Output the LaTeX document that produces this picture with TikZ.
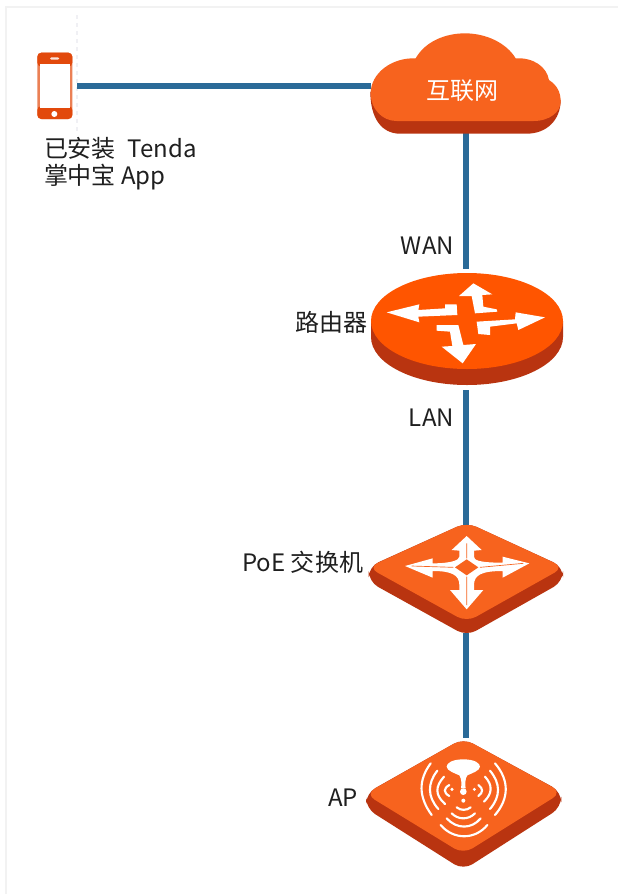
\documentclass[tikz,border=0pt]{standalone}
\usepackage{fontspec}
\setmainfont{Noto Sans CJK SC}
\definecolor{linkc}{HTML}{2A6A98}
\definecolor{orA}{HTML}{F7631E}
\definecolor{orB}{HTML}{FF5500}
\definecolor{sideA}{HTML}{B93410}
\definecolor{phoneC}{HTML}{E2490C}
\tikzset{
  iconbox/.style={draw=none,inner sep=0pt,outer sep=0pt},
  lbl/.style={inner sep=0pt,outer sep=0pt,text=black!88,font=\fontsize{18}{20}\selectfont},
  link/.style={draw=linkc,line width=3.8pt},
  zoomA/.style={x=0.25pt,y=-0.25pt},
  wave/.style={draw=white,line width=1.6pt,line cap=round,fill=none},
}
\begin{document}
\begin{tikzpicture}[x=0.75pt,y=-0.75pt]
\useasboundingbox (0,0) rectangle (618,894);
\fill[white] (0,0) rectangle (618,894);
\draw[black!5,line width=1.5pt] (618,6.5) -- (5.5,6.5) -- (5.5,894);
\draw[blue!30!black!6,line width=0.8pt,dashed] (77,15) -- (77,135);

% invisible anchor boxes
\node[iconbox,minimum width=30pt,minimum height=49.5pt] (phone) at (57,86) {};
\node[iconbox,minimum width=142.5pt,minimum height=70.5pt] (cloud) at (466,86) {};
\node[iconbox,minimum width=142.5pt,minimum height=90.75pt] (router) at (466,329.5) {};
\node[iconbox,minimum width=142.5pt,minimum height=81pt] (switch) at (466,579) {};
\node[iconbox,minimum width=142.5pt,minimum height=96pt] (ap) at (466,802) {};

% connectors
\draw[link] (phone.east) -- (cloud.west);
\draw[link] (cloud.south) -- (router.north);
\draw[link] (router.south) -- (switch.north);
\draw[link] (switch.south) -- (ap.north);

% phone
\begin{scope}[zoomA]
\fill[phoneC!70!white,rounded corners=3pt] (112,158) rectangle (217,357);
\fill[white] (119,192) rectangle (210,325);
\fill[phoneC,rounded corners=3pt] (112,200) -- (112,158) -- (217,158) -- (217,200) -- cycle;
\fill[white] (119,192) rectangle (210,205);
\fill[phoneC,rounded corners=3pt] (112,318) -- (112,357) -- (217,357) -- (217,318) -- cycle;
\fill[white] (119,312) rectangle (210,325);
\fill[white!85!phoneC,rounded corners=1pt] (150,172) rectangle (178,179);
\fill[white] (163,342) circle[radius=9];
\end{scope}

% cloud
\begin{scope}[shift={(350,20)},zoomA]
\fill[sideA] (61,215) -- (632,240) .. controls (632,300) and (590,341) .. (530,341) -- (150,341) .. controls (95,341) and (61,295) .. (61,215) -- cycle;
\fill[orA] (62,220) .. controls (62,160) and (125,112) .. (197,115)
  .. controls (225,65) and (285,40) .. (345,40)
  .. controls (410,40) and (470,70) .. (497,115)
  .. controls (550,112) and (590,140) .. (597,180)
  .. controls (620,195) and (632,215) .. (632,245)
  .. controls (632,275) and (600,303) .. (550,303)
  -- (140,303) .. controls (95,303) and (62,265) .. (62,220) -- cycle;
\end{scope}
\node[inner sep=0pt,text=white,font=\fontsize{18}{20}\selectfont] (cloudtext) at (462,90.5) {互联网};

% router
\fill[sideA] (371,321) -- (371,337) arc[start angle=180,end angle=0,x radius=96,y radius=48] -- (563,321) -- cycle;
\fill[orB] (467,321) ellipse[x radius=96,y radius=48];
\begin{scope}[shift={(350,260)},zoomA]
\fill[white] (110,157) -- (208,133) -- (205,150) -- (285,145) -- (285,133) -- (320,133) -- (322,165) -- (205,170) -- (208,187) -- cycle;
\fill[white] (370,70) -- (427,103) -- (397,105) -- (400,140) -- (440,148) -- (442,155) -- (375,160) -- (365,108) -- (327,108) -- cycle;
\fill[white] (585,172) -- (505,210) -- (500,190) -- (420,200) -- (420,225) -- (385,222) -- (380,185) -- (495,178) -- (497,157) -- cycle;
\fill[white] (338,310) -- (275,260) -- (307,258) -- (300,215) -- (260,212) -- (260,195) -- (325,195) -- (340,255) -- (378,252) -- cycle;
\end{scope}

% switch
\begin{scope}[shift={(350,510)},zoomA]
\fill[sideA,rounded corners=8pt] (56,215) -- (56,170) -- (350,37) -- (639,170) -- (639,215) -- (350,378) -- cycle;
\fill[orA,rounded corners=8pt] (350,37) -- (642,172) -- (350,336) -- (54,172) -- cycle;
% arrows
\fill[white] (350,78) -- (395,120) -- (372,122) -- (372,140) .. controls (372,150) and (385,158) .. (458,158) -- (458,140) -- (538,160) -- (458,203) -- (458,183)
  .. controls (395,183) and (372,195) .. (372,225) -- (372,240) -- (400,240) -- (350,298) -- (300,240) -- (328,240) -- (328,225)
  .. controls (328,195) and (305,183) .. (248,183) -- (248,203) -- (165,168) -- (248,145) -- (248,160)
  .. controls (305,160) and (328,150) .. (328,140) -- (328,122) -- (305,120) -- cycle;
\fill[orA] (350,148) -- (385,172) -- (350,196) -- (315,172) -- cycle;
\draw[orA,line width=0.5pt] (350,100) -- (350,145) (350,200) -- (350,285) (185,168) -- (310,172) (390,172) -- (520,160);
\end{scope}

% AP
\begin{scope}[shift={(350,730)},zoomA]
\fill[sideA,rounded corners=8pt] (48,235) -- (48,190) -- (340,25) -- (634,185) -- (634,232) -- (340,420) -- cycle;
\fill[orA,rounded corners=8pt] (340,25) -- (636,187) -- (340,372) -- (46,192) -- cycle;
\fill[white] (340,88) .. controls (375,88) and (390,100) .. (390,110) .. controls (390,122) and (365,130) .. (352,136) .. controls (345,145) and (345,165) .. (347,175) -- (333,175) .. controls (335,165) and (335,145) .. (328,136) .. controls (315,130) and (290,122) .. (290,110) .. controls (290,100) and (305,88) .. (340,88) -- cycle;
\fill[white] (340,185) circle[radius=10];
\fill[white] (306,178) circle[radius=5];
\fill[white] (373,178) circle[radius=5];
\fill[white] (340,212) circle[radius=6];
\draw[wave] (242,100) .. controls (205,150) and (205,200) .. (245,255);
\draw[wave] (262,122) .. controls (232,160) and (232,200) .. (265,237);
\draw[wave] (282,140) .. controls (255,170) and (255,195) .. (285,222);
\draw[wave] (298,165) .. controls (280,175) and (280,188) .. (298,198);
\draw[wave] (435,100) .. controls (478,150) and (478,205) .. (435,255);
\draw[wave] (420,122) .. controls (452,160) and (452,200) .. (420,237);
\draw[wave] (405,140) .. controls (428,165) and (428,190) .. (402,215);
\draw[wave] (385,165) .. controls (400,175) and (400,188) .. (385,198);
\draw[wave] (272,285) .. controls (310,330) and (375,330) .. (412,285);
\draw[wave] (290,265) .. controls (320,298) and (365,298) .. (392,265);
\draw[wave] (305,250) .. controls (325,270) and (355,270) .. (375,250);
\draw[wave] (320,232) .. controls (332,242) and (350,242) .. (362,232);
\end{scope}

% labels
\node[lbl,anchor=west] (t1) at (44,148) {已安装\hspace{9pt}Tenda};
\node[lbl,anchor=west] (t2) at (44,177) {掌中宝 App};
\node[lbl,anchor=east] (wan) at (454,246) {WAN};
\node[lbl,anchor=east] (lan) at (454,418) {LAN};
\node[lbl,anchor=east] (rt) at (367,322) {路由器};
\node[lbl,anchor=east] (sw) at (363,562) {PoE 交换机};
\node[lbl,anchor=east] (apl) at (358,798) {AP};
\end{tikzpicture}
\end{document}
